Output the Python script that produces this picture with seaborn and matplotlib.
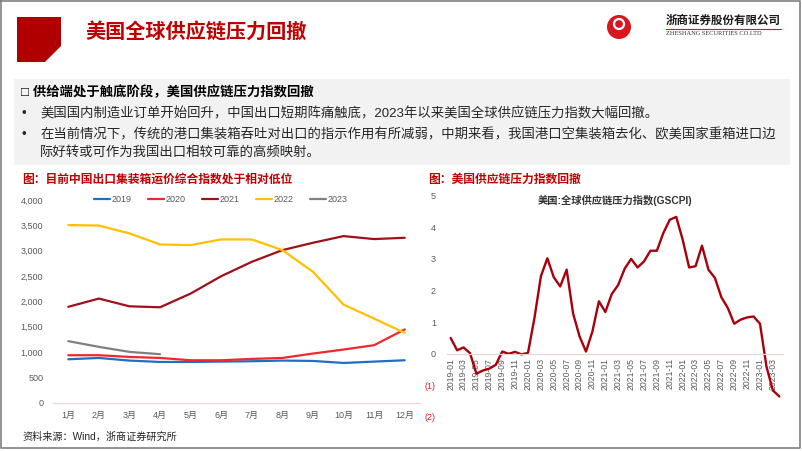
import matplotlib
matplotlib.use("Agg")
import matplotlib.pyplot as plt
import pandas as pd
import seaborn as sns
from matplotlib.patches import Polygon, Rectangle, Circle

# Left chart: China export container freight index, by month and year
months = ["1月", "2月", "3月", "4月", "5月", "6月", "7月", "8月", "9月", "10月", "11月", "12月"]
idx_2019 = [854, 880, 828, 801, 801, 808, 815, 828, 821, 781, 808, 834]
idx_2020 = [934, 934, 900, 880, 834, 834, 861, 880, 967, 1046, 1132, 1444]
idx_2021 = [1890, 2053, 1900, 1881, 2152, 2495, 2779, 3010, 3155, 3287, 3228, 3254]
idx_2022 = [3505, 3495, 3340, 3122, 3109, 3221, 3221, 3010, 2581, 1934, 1657, 1375]
idx_2023 = [1212, 1099, 1000, 954]
left_yticks = [0, 500, 1000, 1500, 2000, 2500, 3000, 3500, 4000]

# Right chart: GSCPI, monthly 2019-01 .. 2023-04
gscpi = [0.50, 0.11, 0.20, 0.02, -0.63, -0.53, -0.47, -0.35, 0.07, 0.00, 0.06, -0.02,
         0.03, 1.13, 2.45, 3.02, 2.42, 2.13, 2.66, 1.27, 0.55, 0.07, 0.71, 1.66,
         1.32, 1.89, 2.18, 2.69, 3.00, 2.73, 2.92, 3.26, 3.26, 3.82, 4.24, 4.33,
         3.61, 2.73, 2.77, 3.42, 2.66, 2.40, 1.79, 1.45, 0.95, 1.08, 1.15, 1.18,
         0.95, -0.40, -1.16, -1.35]
gscpi_months = [p.strftime("%Y-%m") for p in pd.period_range("2019-01", "2023-04", freq="M")]
right_yticks = [-2, -1, 0, 1, 2, 3, 4, 5]
right_ylabels = ["(2)", "(1)", "0", "1", "2", "3", "4", "5"]


def main():
    sns.set_style("white")
    plt.rcParams["font.family"] = ["Liberation Sans", "Noto Sans CJK SC", "DejaVu Sans"]

    title_red = "#C00000"
    tick_color = "#595959"
    axis_pink = "#EBD3D3"
    palette = {"2019": "#1F6FC5", "2020": "#F0282D", "2021": "#A0101A",
               "2022": "#FFC000", "2023": "#808080"}

    W, H = 802, 451
    fig = plt.figure(figsize=(W / 100, H / 100), dpi=100)

    # Background layer in pixel coordinates for the slide decorations
    bg = fig.add_axes([0, 0, 1, 1])
    bg.set_xlim(0, W)
    bg.set_ylim(H, 0)
    bg.axis("off")

    # slide frame
    bg.plot([1, 800, 800, 1, 1], [1, 1, 448, 448, 1], color="#808080", lw=1.2)

    # red block + title
    bg.add_patch(Polygon([(17, 17), (61, 17), (61, 46), (45, 62), (17, 62)],
                         closed=True, color="#B00000", lw=0))
    bg.text(85, 32, "美国全球供应链压力回撤", color=title_red, fontsize=14.5,
            fontweight="bold", va="center", ha="left")

    # logo
    bg.add_patch(Circle((619, 27), 12, color="#D7161E", lw=0))
    bg.add_patch(Circle((619, 24), 5, facecolor="none", edgecolor="white", lw=1.6))
    bg.text(666, 21, "浙商证券股份有限公司", fontsize=8.3, color="#1A1A1A",
            va="center", ha="left", fontweight="bold")
    bg.plot([666, 781], [28.5, 28.5], color="#D7161E", lw=0.8)
    bg.text(666, 33.5, "ZHESHANG SECURITIES CO.LTD", fontsize=4.6,
            family="Liberation Serif", color="#333333", va="center", ha="left")

    # text box
    body = 9.6
    bg.add_patch(Rectangle((14, 79), 776, 86, color="#F2F2F2", lw=0))
    bg.text(21, 92, "□ 供给端处于触底阶段，美国供应链压力指数回撤", fontsize=body,
            fontweight="bold", va="center", ha="left", color="#000000")
    bg.text(22, 114, "•", fontsize=body, va="center", ha="left", color="#262626")
    bg.text(40, 114, "美国国内制造业订单开始回升，中国出口短期阵痛触底，2023年以来美国全球供应链压力指数大幅回撤。",
            fontsize=body, va="center", ha="left", color="#262626")
    bg.text(22, 135, "•", fontsize=body, va="center", ha="left", color="#262626")
    bg.text(40, 135, "在当前情况下，传统的港口集装箱吞吐对出口的指示作用有所减弱，中期来看，我国港口空集装箱去化、欧美国家重箱进口边",
            fontsize=body, va="center", ha="left", color="#262626")
    bg.text(40, 153, "际好转或可作为我国出口相较可靠的高频映射。",
            fontsize=body, va="center", ha="left", color="#262626")

    # chart captions
    bg.text(22, 180, "图：目前中国出口集装箱运价综合指数处于相对低位", color=title_red,
            fontsize=8.5, fontweight="bold", va="center", ha="left")
    bg.text(428, 180, "图：美国供应链压力指数回撤", color=title_red,
            fontsize=8.5, fontweight="bold", va="center", ha="left")
    bg.text(22, 437, "资料来源：Wind，浙商证券研究所", fontsize=7.3,
            va="center", ha="left", color="#262626")

    # ---------------- Left chart ----------------
    series = {"2019": idx_2019, "2020": idx_2020, "2021": idx_2021,
              "2022": idx_2022, "2023": idx_2023}
    rows = []
    for year, vals in series.items():
        for i, v in enumerate(vals):
            rows.append({"month": i + 1, "value": v, "year": year})
    df = pd.DataFrame(rows)

    ax1 = fig.add_axes([53 / W, 1 - 402.5 / H, 367 / W, 202.5 / H])
    ax1.set_facecolor("none")
    sns.lineplot(data=df, x="month", y="value", hue="year", palette=palette,
                 linewidth=1.6, ax=ax1)
    ax1.set_xlim(0.5, 12.5)
    ax1.set_ylim(0, 4000)
    ax1.set_xticks(range(1, 13))
    ax1.set_xticklabels(months)
    ax1.set_yticks(left_yticks)
    ax1.set_yticklabels([f"{v:,}" for v in left_yticks])
    ax1.set_xlabel("")
    ax1.set_ylabel("")
    ax1.tick_params(axis="both", length=0, labelsize=6.5, colors=tick_color)
    ax1.tick_params(axis="y", pad=7)
    ax1.tick_params(axis="x", pad=6)
    for side in ["left", "top", "right"]:
        ax1.spines[side].set_visible(False)
    ax1.spines["bottom"].set_color(axis_pink)
    ax1.spines["bottom"].set_linewidth(0.8)
    handles, labels = ax1.get_legend_handles_labels()
    ax1.legend(handles, labels, loc="center", bbox_to_anchor=(0.457, 1.0), ncol=5,
               frameon=False, fontsize=6.5, handlelength=1.8, handletextpad=0.15,
               columnspacing=1.8, labelcolor=tick_color)

    # ---------------- Right chart ----------------
    ax2 = fig.add_axes([447 / W, 1 - 417 / H, 336 / W, 221.3 / H])
    ax2.set_facecolor("none")
    pos = list(range(len(gscpi)))
    sns.lineplot(x=pos, y=gscpi, color="#A8000C", linewidth=1.7, ax=ax2)
    ax2.set_xlim(-0.57, len(gscpi) - 1 + 0.57)
    ax2.set_ylim(-2, 5)
    ax2.set_yticks(right_yticks)
    ax2.set_yticklabels(right_ylabels)
    ax2.set_xticks(pos[::2])
    ax2.set_xticklabels(gscpi_months[::2])
    ax2.tick_params(axis="both", length=0, colors=tick_color)
    ax2.tick_params(axis="y", labelsize=6.5, pad=8)
    ax2.tick_params(axis="x", labelsize=6.2, pad=3, labelrotation=90)
    for lab, v in zip(ax2.get_yticklabels(), right_yticks):
        lab.set_color("#E02020" if v < 0 else tick_color)
    for side in ["left", "top", "right"]:
        ax2.spines[side].set_visible(False)
    ax2.spines["bottom"].set_position(("data", 0))
    ax2.spines["bottom"].set_color(axis_pink)
    ax2.spines["bottom"].set_linewidth(0.8)
    ax2.set_title("美国:全球供应链压力指数(GSCPI)", fontsize=7.4, fontweight="bold",
                  color="#333333", pad=0, y=(417 - 200) / 221.3 - 0.02)

    fig.savefig("out.png", dpi=100)


if __name__ == "__main__":
    main()
